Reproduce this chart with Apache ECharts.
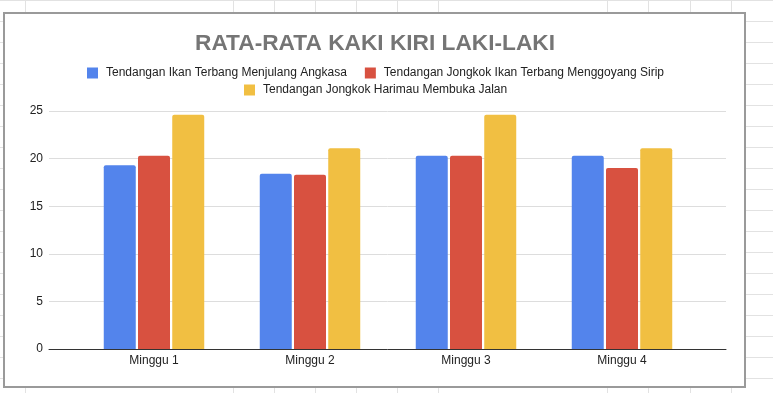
<!DOCTYPE html>
<html>
<head>
<meta charset="utf-8">
<script src="https://cdn.jsdelivr.net/npm/echarts@6/dist/echarts.min.js"></script>
<style>
  html, body { margin: 0; padding: 0; width: 773px; height: 393px; overflow: hidden; background: #fff; }
  #sheet { position: absolute; left: 0; top: 0; width: 773px; height: 393px;
    background-image: repeating-linear-gradient(to bottom, #e2e2e2 0px, #e2e2e2 1px, transparent 1px, transparent 21px); }
  .vl { position: absolute; top: 0; width: 1px; height: 393px; background: #e2e2e2; }
  #frame { position: absolute; left: 3px; top: 12px; width: 743px; height: 376px; box-sizing: border-box;
    border: 2px solid #9a9a9a; background: #fff; }
  #chart { position: absolute; left: 0; top: 0; width: 773px; height: 393px; }
</style>
</head>
<body>
<div id="sheet"></div>
<div id="frame"></div>
<div id="chart"></div>
<script>
// ---- data ----
const categories = ['Minggu 1', 'Minggu 2', 'Minggu 3', 'Minggu 4'];
const seriesNames = [
  'Tendangan Ikan Terbang Menjulang Angkasa',
  'Tendangan Jongkok Ikan Terbang Menggoyang Sirip',
  'Tendangan Jongkok Harimau Membuka Jalan'
];
const ikanTerbang = [19.3, 18.4, 20.3, 20.3];
const jongkokIkan = [20.3, 18.3, 20.3, 19.0];
const jongkokHarimau = [24.6, 21.1, 24.6, 21.1];
const yTicks = [0, 5, 10, 15, 20, 25];
const titleText = 'RATA-RATA KAKI KIRI LAKI-LAKI';

// spreadsheet background column lines
const colLines = [25, 233, 274, 315, 356, 397, 438, 607, 648, 690, 731];
const sheet = document.getElementById('sheet');
colLines.forEach(x => { const d = document.createElement('div'); d.className = 'vl'; d.style.left = x + 'px'; sheet.appendChild(d); });

const colors = ['#5384EC', '#D85140', '#F1BF42'];
const font = '"Liberation Sans", Arial, sans-serif';
const chart = echarts.init(document.getElementById('chart'), null, { renderer: 'canvas' });

const legendCommon = {
  orient: 'horizontal', icon: 'rect', itemWidth: 11, itemHeight: 11, itemGap: 18,
  textStyle: { fontFamily: font, fontSize: 12, color: '#222', padding: [0, 0, 0, 3] },
  selectedMode: false
};

chart.setOption({
  animation: false,
  color: colors,
  textStyle: { fontFamily: font },
  title: {
    text: titleText, left: 195, top: 32, padding: 0,
    textStyle: { fontFamily: font, fontSize: 22.7, fontWeight: 'bold', color: '#757575' }
  },
  legend: [
    Object.assign({}, legendCommon, { left: 82, top: 62, data: [seriesNames[0], seriesNames[1]] }),
    Object.assign({}, legendCommon, { left: 239, top: 79, data: [seriesNames[2]] })
  ],
  grid: [
    { left: 49, right: 47, top: 111, bottom: 44 },
    { left: 76, right: 73, top: 111, bottom: 44 }
  ],
  xAxis: [
    { gridIndex: 0, type: 'value', min: 0, max: 1, axisLabel: { show: false }, axisTick: { show: false },
      splitLine: { show: false }, axisLine: { show: true, onZero: false, lineStyle: { color: '#333', width: 1 } } },
    { gridIndex: 1, type: 'category', data: categories, axisLine: { show: false }, axisTick: { show: false },
      axisLabel: { margin: 6, fontFamily: font, fontSize: 12, color: '#222' } }
  ],
  yAxis: [
    { gridIndex: 0, type: 'value', min: yTicks[0], max: yTicks[yTicks.length - 1], interval: yTicks[1] - yTicks[0],
      axisLine: { show: false }, axisTick: { show: false },
      axisLabel: { margin: 6, fontFamily: font, fontSize: 12, color: '#222' },
      splitLine: { lineStyle: { color: '#dddddd', width: 1 } } },
    { gridIndex: 1, type: 'value', min: yTicks[0], max: yTicks[yTicks.length - 1], show: false, splitLine: { show: false } }
  ],
  series: [
    { name: seriesNames[0], type: 'bar', xAxisIndex: 1, yAxisIndex: 1, data: ikanTerbang, barWidth: 32, barGap: '7%',
      itemStyle: { borderRadius: [2, 2, 0, 0] } },
    { name: seriesNames[1], type: 'bar', xAxisIndex: 1, yAxisIndex: 1, data: jongkokIkan, barWidth: 32, barGap: '7%',
      itemStyle: { borderRadius: [2, 2, 0, 0] } },
    { name: seriesNames[2], type: 'bar', xAxisIndex: 1, yAxisIndex: 1, data: jongkokHarimau, barWidth: 32, barGap: '7%',
      itemStyle: { borderRadius: [2, 2, 0, 0] } }
  ]
});
</script>
</body>
</html>
